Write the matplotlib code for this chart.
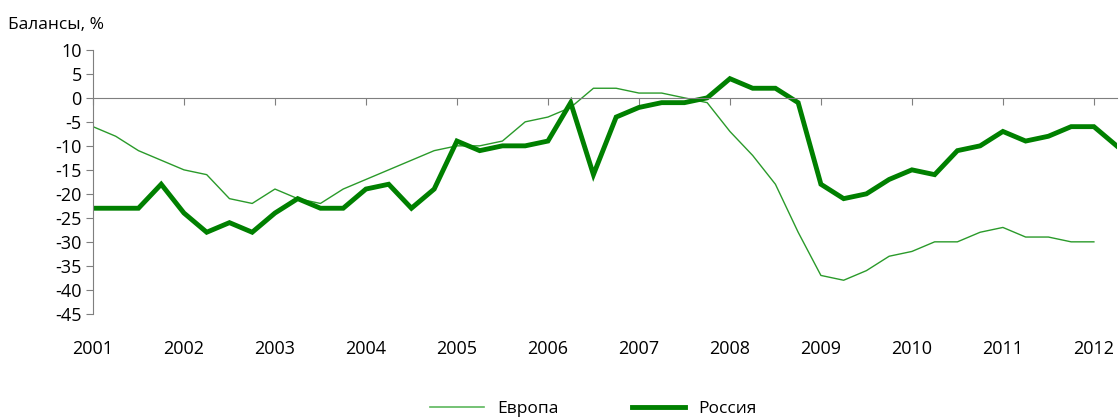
import numpy as np
import matplotlib.pyplot as plt
from matplotlib.lines import Line2D

# quarterly balances, %
years = list(range(2001, 2013))
russia = [-23, -23, -23, -18,
          -24, -28, -26, -28,
          -24, -21, -23, -23,
          -19, -18, -23, -19,
          -9, -11, -10, -10,
          -9, -1, -16, -4,
          -2, -1, -1, 0,
          4, 2, 2, -1,
          -18, -21, -20, -17,
          -15, -16, -11, -10,
          -7, -9, -8, -6,
          -6, -10]
europe = [-6, -8, -11, -13,
          -15, -16, -21, -22,
          -19, -21, -22, -19,
          -17, -15, -13, -11,
          -10, -10, -9, -5,
          -4, -2, 2, 2,
          1, 1, 0, -1,
          -7, -12, -18, -28,
          -37, -38, -36, -33,
          -32, -30, -30, -28,
          -27, -29, -29, -30,
          -30]

x_ru = 2001 + np.arange(len(russia)) / 4
x_eu = 2001 + np.arange(len(europe)) / 4

plt.rcParams['font.family'] = ['Open Sans', 'DejaVu Sans']

fig = plt.figure(figsize=(11.2, 4.19), dpi=100)
ax = fig.add_axes([0.083, 0.251, 0.914, 0.630])

ax.plot(x_eu, europe, color='#2a9a2a', lw=1.0)
ax.plot(x_ru, russia, color='#008000', lw=3.5, solid_joinstyle='miter')

ax.set_xlim(2001, 2012.25)
ax.set_ylim(-45, 10)
ax.set_yticks(np.arange(-45, 11, 5))
ax.set_yticklabels([str(v) for v in range(-45, 11, 5)], fontsize=13)

for s in ['top', 'right']:
    ax.spines[s].set_visible(False)
ax.spines['left'].set_color('#7f7f7f')
ax.spines['bottom'].set_color('#7f7f7f')
ax.spines['bottom'].set_position(('data', 0))
ax.tick_params(axis='y', direction='out', length=5, color='#7f7f7f', pad=3)
ax.set_xticks(years)
ax.tick_params(axis='x', direction='out', length=5, color='#7f7f7f', labelbottom=False)

for yr in years:
    ax.text(yr, -0.135, str(yr), transform=ax.get_xaxis_transform(),
            ha='center', va='center', fontsize=13)

fig.text(0.007, 0.94, 'Балансы, %', fontsize=12.5, ha='left', va='center')

handles = [Line2D([], [], color='#5cb85c', lw=1.2),
           Line2D([], [], color='#008000', lw=3.5)]
fig.legend(handles, ['Европа', 'Россия'], loc='center', bbox_to_anchor=(0.53, 0.025),
           ncol=2, frameon=False, fontsize=12.5, handlelength=3.1,
           handletextpad=0.75, columnspacing=4.2)

fig.savefig('out.png', dpi=100)
